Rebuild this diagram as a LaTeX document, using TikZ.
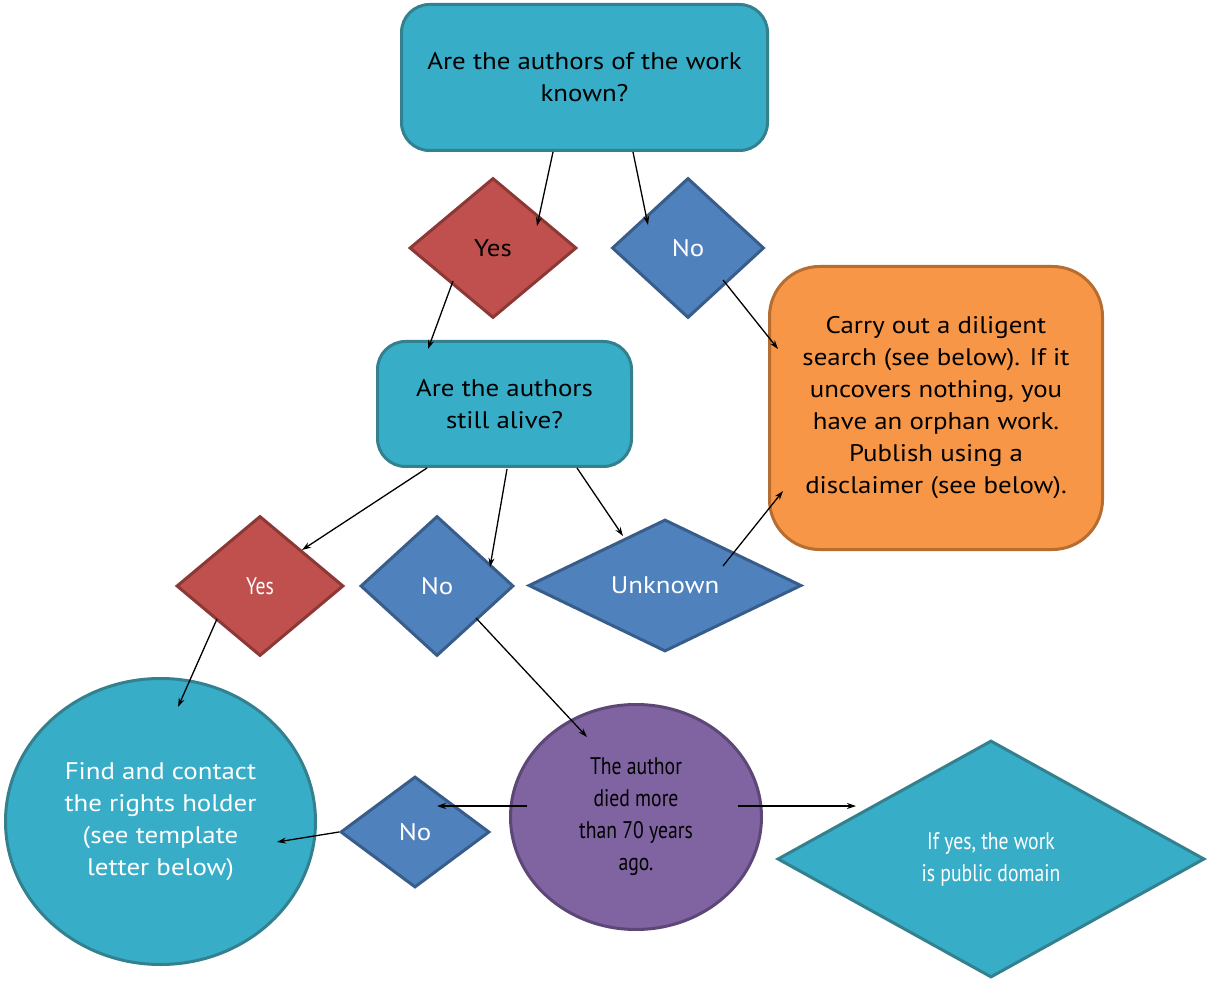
\documentclass[tikz,border=0pt]{standalone}
\usepackage{fontspec}
\setmainfont[FakeStretch=1.12]{PT Sans}
\newfontfamily\narrowfont[FakeStretch=0.82]{PT Sans}
\usetikzlibrary{shapes.geometric,arrows.meta,calc}
\definecolor{tealF}{HTML}{38ADC8}
\definecolor{tealD}{HTML}{33808F}
\definecolor{redF}{HTML}{C0504D}
\definecolor{redD}{HTML}{8C3836}
\definecolor{blueF}{HTML}{4F81BD}
\definecolor{blueD}{HTML}{385D8A}
\definecolor{orF}{HTML}{F79646}
\definecolor{orD}{HTML}{B66D31}
\definecolor{purF}{HTML}{8064A2}
\definecolor{purD}{HTML}{5C4776}
\begin{document}
\begin{tikzpicture}[x=1pt,y=-1pt,
  base/.style={line width=3pt, font=\fontsize{24}{32}\selectfont, align=center, inner sep=0pt},
  narrow/.style={font=\fontsize{24}{32}\narrowfont},
  tealbox/.style={base, rectangle, rounded corners=28pt, draw=tealD, fill=tealF, text=black},
  orbox/.style={base, rectangle, rounded corners=50pt, draw=orD, fill=orF, text=black},
  reddia/.style={base, diamond, draw=redD, fill=redF},
  bluedia/.style={base, diamond, draw=blueD, fill=blueF, text=white},
  tealdia/.style={base, diamond, draw=tealD, fill=tealF, text=white},
  tealell/.style={base, ellipse, draw=tealD, fill=tealF, text=white},
  purell/.style={base, ellipse, draw=purD, fill=purF, text=black},
  conn/.style={line width=1.3pt, -{Stealth[length=9pt,width=6pt]}}
]
\useasboundingbox (0,0) rectangle (1208,981);

\node[tealbox, minimum width=366, minimum height=146] (q1) at (584.5,77.5) {Are the authors of the work\\known?};
\node[reddia, minimum width=167, minimum height=140, text=black] (y1) at (493,248) {Yes};
\node[bluedia, minimum width=152, minimum height=140] (n1) at (688,248) {No};
\node[orbox, minimum width=333, minimum height=283] (or) at (936,408) {Carry out a diligent\\search (see below). If it\\uncovers nothing, you\\have an orphan work.\\Publish using a\\disclaimer (see below).};
\node[tealbox, minimum width=254, minimum height=125] (q2) at (504.5,404) {Are the authors\\still alive?};
\node[reddia, narrow, minimum width=167, minimum height=140, text=white] (y2) at (260,586) {Yes};
\node[bluedia, minimum width=153, minimum height=140] (n2) at (437,586) {No};
\node[bluedia, minimum width=273, minimum height=132] (unk) at (665,585.5) {Unknown};
\node[tealell, minimum width=310, minimum height=286] (find) at (160.5,821.5) {Find and contact\\the rights holder\\(see template\\letter below)};
\node[bluedia, minimum width=149, minimum height=111] (n3) at (415,832) {No};
\node[purell, narrow, minimum width=251, minimum height=225] (pur) at (636,817) {The author\\died more\\than 70 years\\ago.};
\node[tealdia, narrow, minimum width=427, minimum height=237] (pd) at (991,859) {If yes, the work\\is public domain};

\draw[conn] ($(q1.center)+(-31.5,74.5)$) -- ($(y1.center)+(44,-22)$);
\draw[conn] ($(q1.center)+(48.5,74.5)$) -- ($(n1.center)+(-40,-23)$);
\draw[conn] ($(y1.center)+(-40,33)$) -- ($(q2.center)+(-76.5,-55)$);
\draw[conn] ($(n1.center)+(35,32)$) -- ($(or.center)+(-158,-59)$);
\draw[conn] ($(q2.center)+(-77.5,64)$) -- ($(y2.center)+(42,-36)$);
\draw[conn] ($(q2.center)+(2.5,65)$) -- ($(n2.center)+(53,-19)$);
\draw[conn] ($(q2.center)+(72.5,64)$) -- ($(unk.center)+(-42,-49.5)$);
\draw[conn] ($(unk.center)+(58,-19.5)$) -- ($(or.center)+(-153,83)$);
\draw[conn] ($(y2.center)+(-43,33)$) -- ($(find.center)+(17.5,-114.5)$);
\draw[conn] ($(n2.center)+(39,32)$) -- ($(pur.center)+(-49,-80)$);
\draw[conn] ($(pur.center)+(-109,-11)$) -- ($(n3.center)+(22,-26)$);
\draw[conn] (n3.west) -- ($(find.center)+(116.5,20.5)$);
\draw[conn] ($(pur.center)+(102,-11)$) -- ($(pd.center)+(-135,-53)$);
\end{tikzpicture}
\end{document}
